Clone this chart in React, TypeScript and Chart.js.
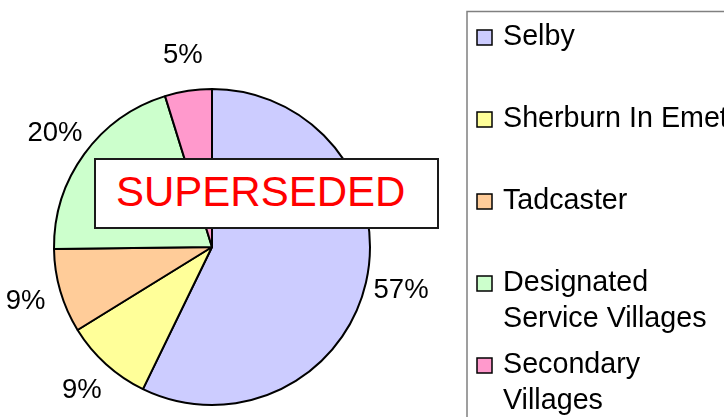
import React, { useEffect, useRef } from "react";
import { Chart, registerables } from "chart.js";

Chart.register(...registerables);

const categories: string[][] = [
  ["Selby"],
  ["Sherburn In Emet"],
  ["Tadcaster"],
  ["Designated", "Service Villages"],
  ["Secondary", "Villages"],
];
const shares: number[] = [57.2, 9.0, 8.6, 20.4, 4.8];
const sliceColors: string[] = ["#CCCCFF", "#FFFF99", "#FFCC99", "#CCFFCC", "#FF99CC"];
const overlayText = "SUPERSEDED";

const FONT = '"Liberation Sans", Arial, sans-serif';

const percentLabels = {
  id: "percentLabels",
  afterDatasetsDraw(chart: any) {
    const ctx = chart.ctx;
    const meta = chart.getDatasetMeta(0);
    const data = chart.data.datasets[0].data as number[];
    const total = data.reduce((a, b) => a + b, 0);
    ctx.save();
    ctx.font = `27.5px ${FONT}`;
    ctx.fillStyle = "#000";
    ctx.textAlign = "center";
    ctx.textBaseline = "middle";
    meta.data.forEach((arc: any, i: number) => {
      const p = arc.getProps(["x", "y", "startAngle", "endAngle", "outerRadius"], true);
      const mid = (p.startAngle + p.endAngle) / 2;
      const d = p.outerRadius + 36;
      const txt = Math.round((data[i] / total) * 100) + "%";
      ctx.fillText(txt, p.x + Math.cos(mid) * d, p.y + Math.sin(mid) * d);
    });
    ctx.restore();
  },
};

const boxLegend = {
  id: "boxLegend",
  afterDraw(chart: any) {
    const ctx = chart.ctx;
    const labels = chart.data.labels as string[][];
    const colors = chart.data.datasets[0].backgroundColor as string[];
    ctx.save();
    ctx.strokeStyle = "#808080";
    ctx.lineWidth = 1.5;
    ctx.strokeRect(467, 11.5, 400, 500);
    ctx.font = `28.7px ${FONT}`;
    ctx.textAlign = "left";
    ctx.textBaseline = "alphabetic";
    labels.forEach((lines, i) => {
      const base = 45 + i * 82;
      ctx.fillStyle = colors[i];
      ctx.fillRect(477, base - 15, 15, 15);
      ctx.strokeStyle = "#000";
      ctx.lineWidth = 1.5;
      ctx.strokeRect(477, base - 15, 15, 15);
      ctx.fillStyle = "#000";
      lines.forEach((ln, j) => {
        ctx.fillText(ln, 503, base + j * 36);
      });
    });
    ctx.restore();
  },
};

export default function App() {
  const ref = useRef<HTMLCanvasElement | null>(null);
  useEffect(() => {
    document.body.style.margin = "0";
    if (!ref.current) return;
    const chart = new Chart(ref.current, {
      type: "pie",
      data: {
        labels: categories,
        datasets: [
          {
            data: shares,
            backgroundColor: sliceColors,
            borderColor: "#000",
            borderWidth: 2,
            hoverOffset: 0,
          },
        ],
      },
      options: {
        responsive: false,
        animation: false,
        events: [],
        layout: { padding: { left: 53, right: 353, top: 88, bottom: 11 } },
        plugins: {
          legend: { display: false },
          tooltip: { enabled: false },
        },
      },
      plugins: [percentLabels, boxLegend],
    });
    return () => chart.destroy();
  }, []);

  return (
    <div style={{ position: "absolute", left: 0, top: 0, width: 724, height: 417, background: "#fff", overflow: "hidden" }}>
      <canvas ref={ref} width={724} height={417} style={{ display: "block" }} />
      <div
        style={{
          position: "absolute",
          left: 94,
          top: 158,
          width: 345,
          height: 71,
          boxSizing: "border-box",
          border: "2px solid #1a1a1a",
          background: "#fff",
        }}
      >
        <span
          style={{
            position: "absolute",
            left: 20,
            top: 11,
            fontFamily: FONT,
            fontSize: 42,
            lineHeight: "42px",
            color: "#FF0000",
            whiteSpace: "nowrap",
          }}
        >
          {overlayText}
        </span>
      </div>
    </div>
  );
}
